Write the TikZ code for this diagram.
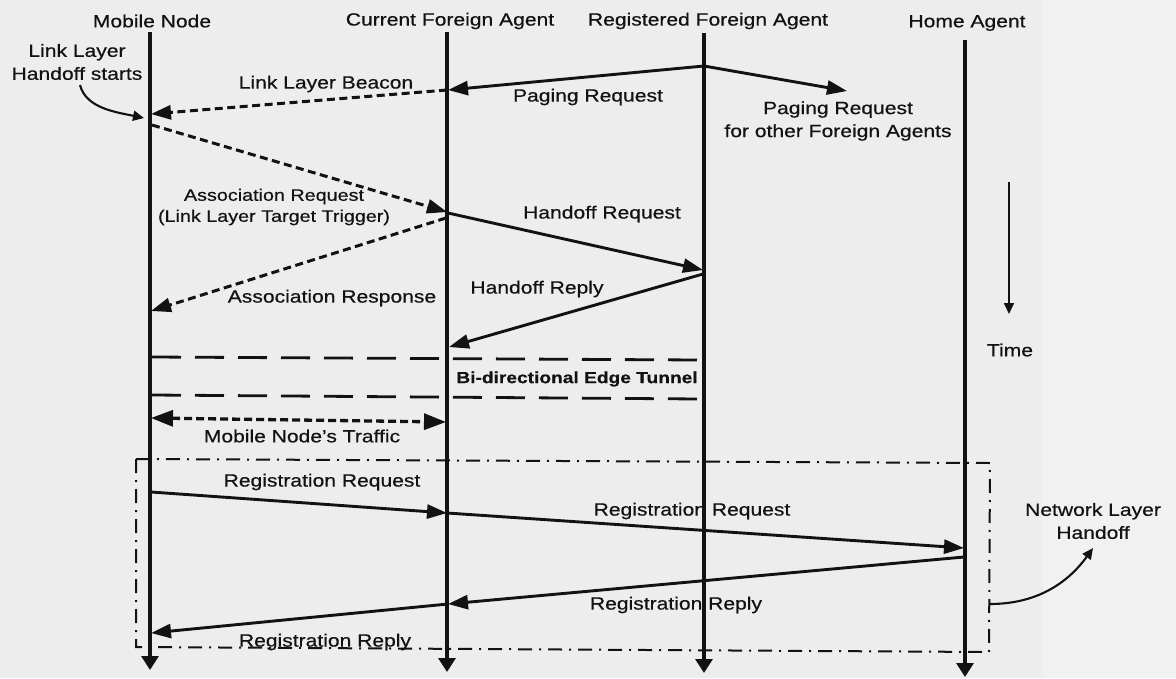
\documentclass[tikz,border=0pt]{standalone}
\usepackage{fontspec}
\setmainfont{Liberation Sans}[FakeStretch=1.19,FakeBold=0.5]
\usetikzlibrary{arrows.meta}
\definecolor{paper}{RGB}{237,237,237}
\definecolor{paperlight}{RGB}{241,241,241}
\definecolor{ink}{RGB}{18,18,18}

\begin{document}
\begin{tikzpicture}[x=1pt,y=-1pt,
  lbl/.style={font=\fontsize{17.7}{23}\selectfont, text=ink, inner sep=0pt, align=center},
  smalllbl/.style={font=\fontsize{16.6}{21}\selectfont, text=ink, inner sep=0pt, align=center},
  boldlbl/.style={font=\fontsize{16.1}{20}\selectfont\bfseries, text=ink, inner sep=0pt},
  lifeline/.style={line width=3.2pt, draw=ink, -{Triangle[length=14pt,width=17pt]}},
  msg/.style={line width=2.9pt, draw=ink, -{Triangle[length=20pt,width=14pt]}},
  dmsg/.style={msg, line width=3pt, dash pattern=on 8pt off 4.5pt},
  traffic/.style={line width=3.3pt, draw=ink, dash pattern=on 8pt off 4pt,
    {Triangle[length=22pt,width=16pt]}-{Triangle[length=22pt,width=16pt]}},
  tunnel/.style={line width=2.8pt, draw=ink, dash pattern=on 29pt off 14pt},
  phase/.style={line width=2pt, draw=ink, dash pattern=on 14pt off 7pt on 2pt off 7pt},
  note/.style={line width=2.1pt, draw=ink, -{Triangle[length=11pt,width=10pt]}},
]
% canvas
\useasboundingbox (0,0) rectangle (1176,678);
\fill[paper] (0,0) rectangle (1176,678);
\fill[paperlight] (1043,0) rectangle (1176,678);

% entity headers
\node[lbl] (hMN)  at (152,21) {Mobile Node};
\node[lbl] (hCFA) at (450,21) {Current Foreign Agent};
\node[lbl] (hRFA) at (708,21) {Registered Foreign Agent};
\node[lbl] (hHA)  at (967,23) {Home Agent};

% lifelines
\coordinate (mnTop)  at (150,32);  \coordinate (mnBot)  at (150,670);
\coordinate (cfaTop) at (447,32);  \coordinate (cfaBot) at (447,672);
\coordinate (rfaTop) at (704,33);  \coordinate (rfaBot) at (704,673);
\coordinate (haTop)  at (965,40);  \coordinate (haBot)  at (965,677);
\draw[lifeline] (mnTop) -- (mnBot);
\draw[lifeline] (cfaTop) -- (cfaBot);
\draw[lifeline] (rfaTop) -- (rfaBot);
\draw[lifeline] (haTop) -- (haBot);

% event points on the lifelines
\coordinate (pgRFA)   at (704,66);
\coordinate (pgCFA)   at (448,90);
\coordinate (pgOther) at (847,91);
\coordinate (bcCFA)   at (447,90);
\coordinate (bcMN)    at (151,114);
\coordinate (arMN)    at (152,125);
\coordinate (arCFA)   at (447,212);
\coordinate (asCFA)   at (446,218);
\coordinate (asMN)    at (151,311);
\coordinate (hqCFA)   at (448,213);
\coordinate (hqRFA)   at (703,270);
\coordinate (hpRFA)   at (703,274);
\coordinate (hpCFA)   at (449,347);
\coordinate (trMN)    at (151,418);
\coordinate (trCFA)   at (446,422);
\coordinate (rqMN)    at (151,492);
\coordinate (rqCFA)   at (447,513);
\coordinate (rqHA)    at (964,548);
\coordinate (rpHA)    at (964,557);
\coordinate (rpCFA)   at (448,604);
\coordinate (rpMN)    at (151,633);

% paging
\draw[msg] (pgRFA) -- (pgCFA);
\draw[msg] (pgRFA) -- (pgOther);
\node[lbl] (lPg)  at (588,97) {Paging Request};
\node[lbl] (lPgO) at (838,121) {Paging Request\\for other Foreign Agents};

% link layer beacon and association
\draw[dmsg] (bcCFA) -- (bcMN);
\node[lbl] (lBc) at (326,84) {Link Layer Beacon};
\draw[dmsg] (arMN) -- (arCFA);
\node[smalllbl] (lAr) at (274,207) {Association Request\\(Link Layer Target Trigger)};
\draw[dmsg] (asCFA) -- (asMN);
\node[lbl] (lAs) at (332,298) {Association Response};

% handoff between foreign agents
\draw[msg] (hqCFA) -- (hqRFA);
\node[lbl] (lHq) at (602,214) {Handoff Request};
\draw[msg] (hpRFA) -- (hpCFA);
\node[lbl] (lHp) at (537,289) {Handoff Reply};

% edge tunnel
\coordinate (t1a) at (152,357); \coordinate (t1b) at (700,360);
\coordinate (t2a) at (152,395); \coordinate (t2b) at (700,399);
\draw[tunnel] (t1a) -- (t1b);
\draw[tunnel] (t2a) -- (t2b);
\node[boldlbl] (lTn) at (577,379) {Bi-directional Edge Tunnel};

% traffic
\draw[traffic] (trMN) -- (trCFA);
\node[lbl] (lTr) at (302,436) {Mobile Node’s Traffic};

% network layer handoff phase
\coordinate (bx1) at (136,459); \coordinate (bx2) at (990,463);
\coordinate (bx3) at (989,652); \coordinate (bx4) at (136,647);
\draw[phase] (bx1) -- (bx2) -- (bx3) -- (bx4) -- cycle;

\draw[msg] (rqMN) -- (rqCFA);
\node[lbl] (lRq1) at (322,482) {Registration Request};
\draw[msg] (rqCFA) -- (rqHA);
\node[lbl] (lRq2) at (692,511) {Registration Request};
\draw[msg] (rpHA) -- (rpCFA);
\node[lbl] (lRp1) at (676,605) {Registration Reply};
\draw[msg] (rpCFA) -- (rpMN);
\node[lbl] (lRp2) at (325,642) {Registration Reply};

% side notes
\node[lbl] (lLh) at (77,62) {Link Layer\\Handoff starts};
\coordinate (lhS) at (80,85); \coordinate (lhE) at (144,118);
\draw[note] (lhS) .. controls (86,108) and (115,112) .. (lhE);

\node[lbl] (lNl) at (1093,521) {Network Layer\\Handoff};
\coordinate (nlS) at (990,604); \coordinate (nlE) at (1093,548);
\draw[note] (nlS) .. controls (1040,604) and (1070,580) .. (nlE);

% time axis
\coordinate (tmS) at (1009,182); \coordinate (tmE) at (1009,314);
\draw[line width=1.8pt, draw=ink, -{Triangle[length=11pt,width=10pt]}] (tmS) -- (tmE);
\node[lbl] (lTm) at (1010,350) {Time};
\end{tikzpicture}
\end{document}
